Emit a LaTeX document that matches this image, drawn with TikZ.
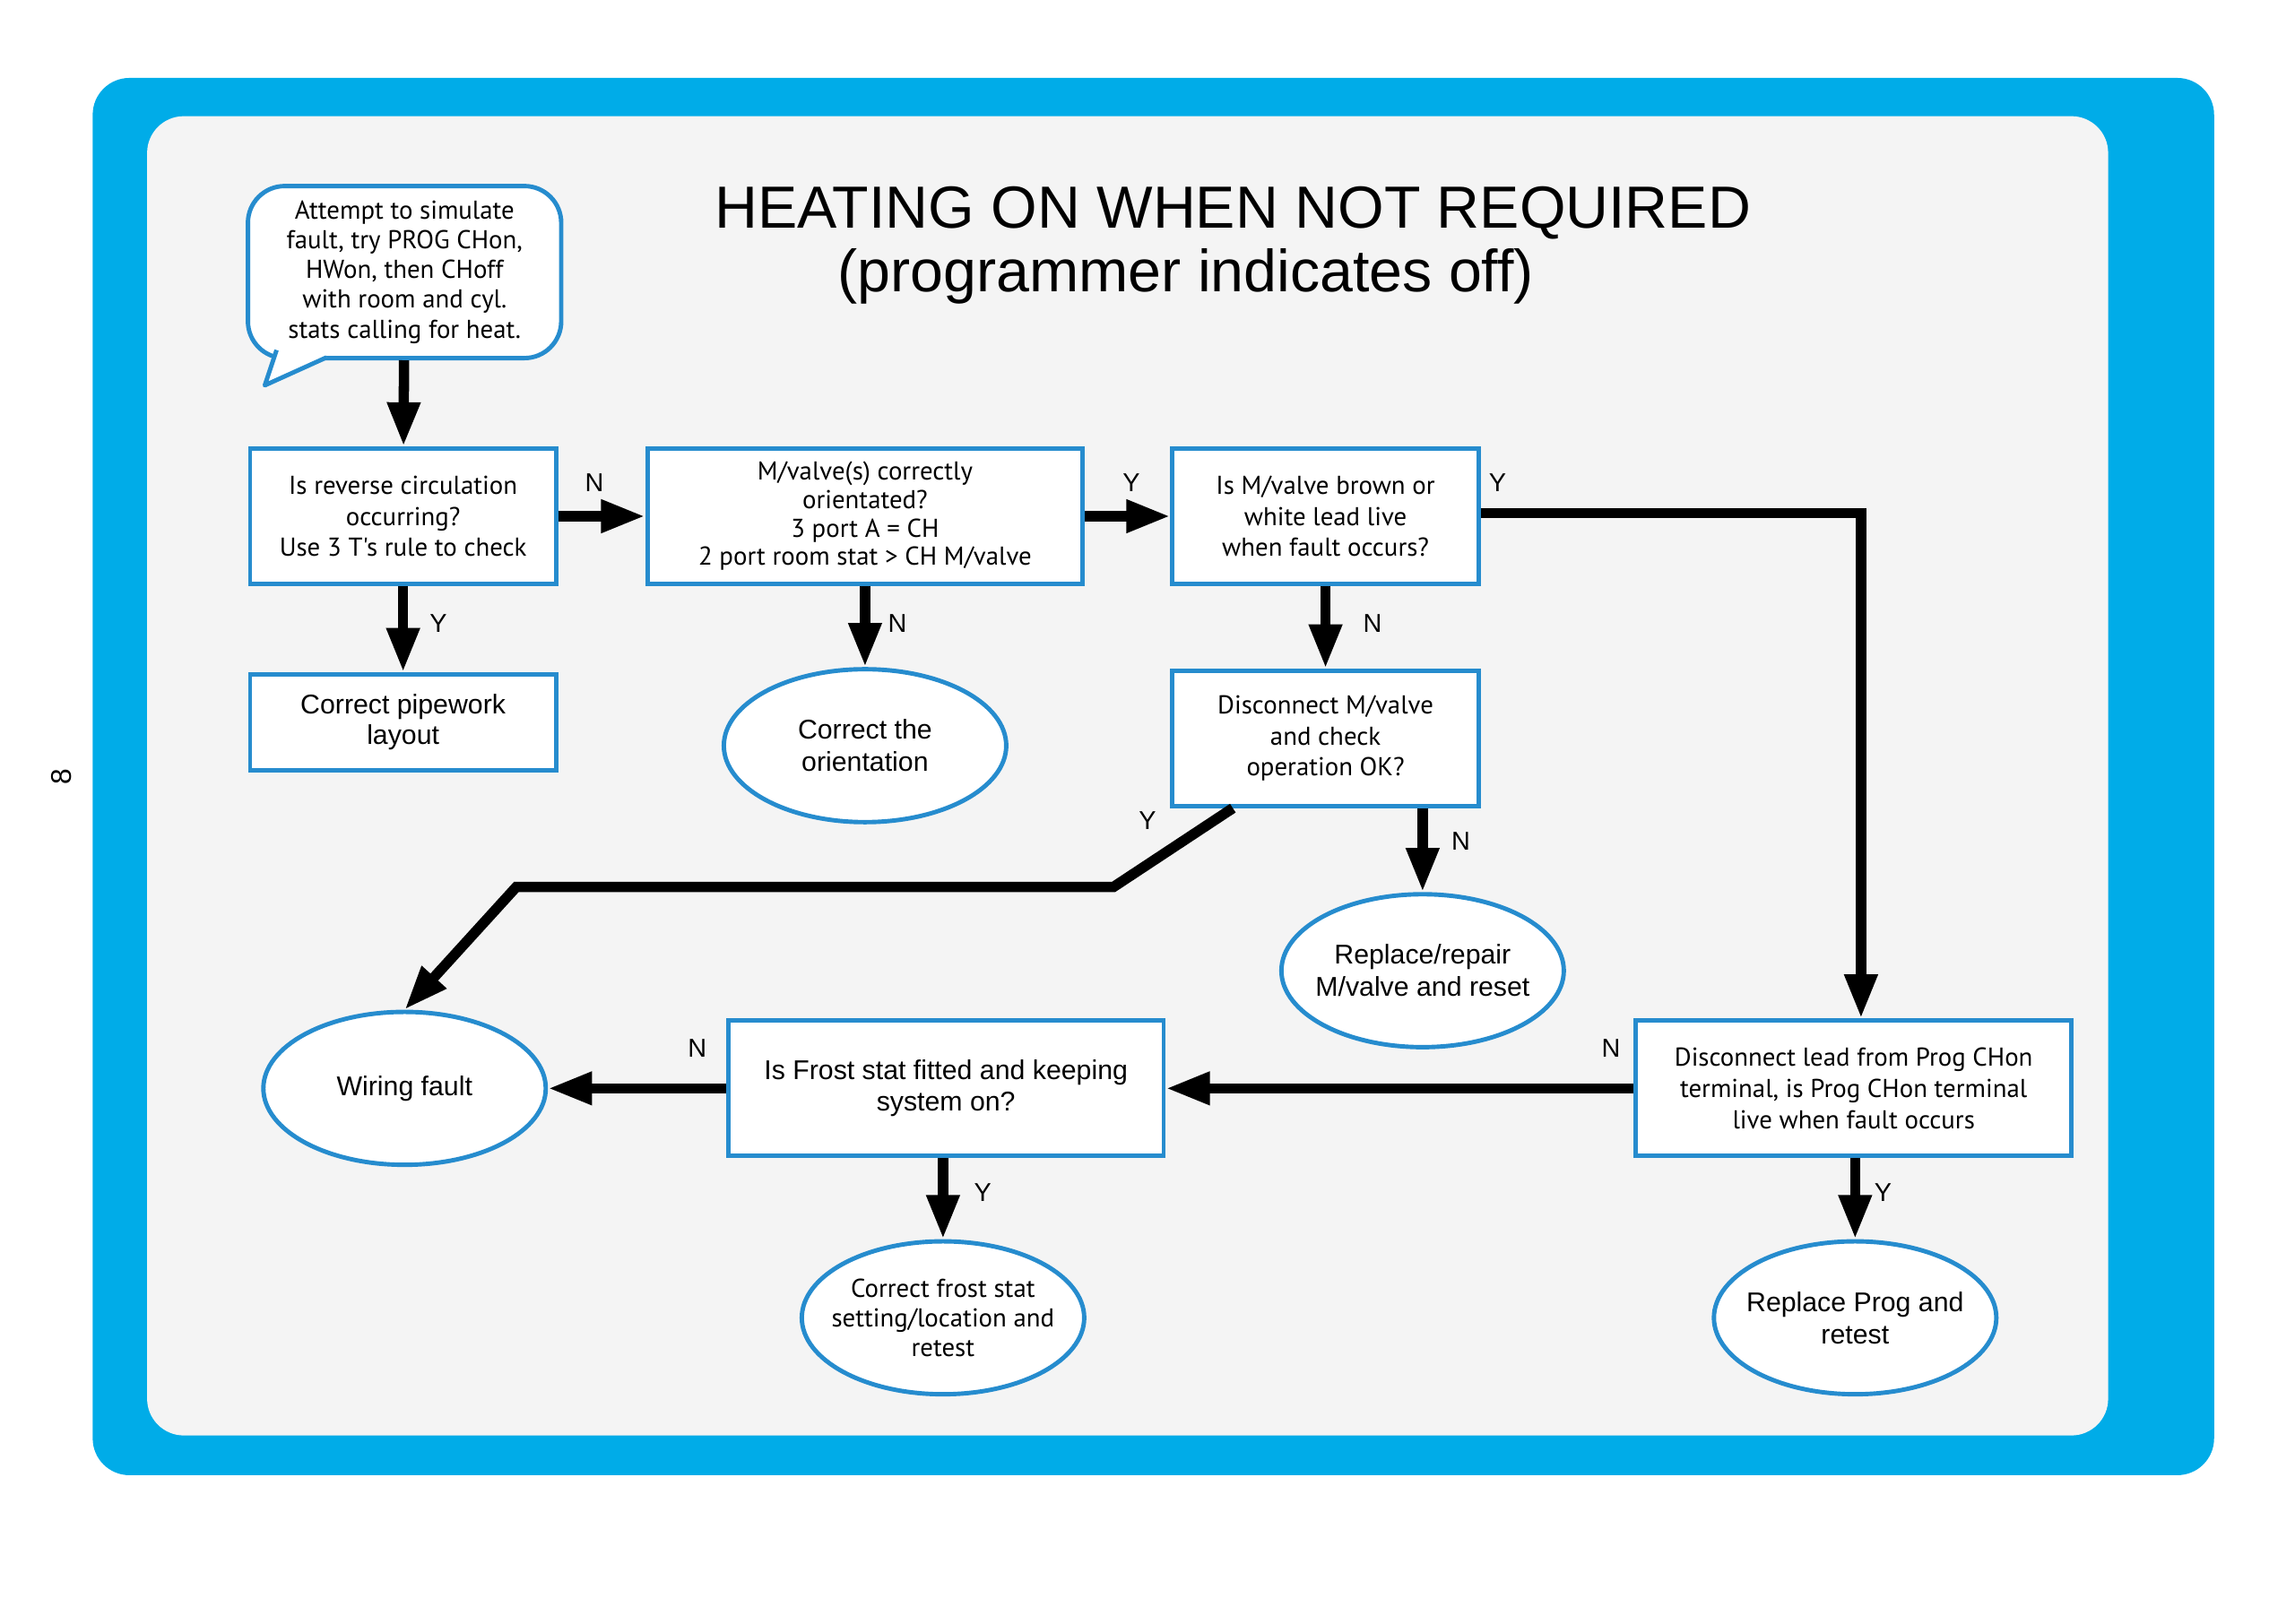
\documentclass[tikz,border=0pt]{standalone}
\usepackage{fontspec}
\setmainfont{Liberation Sans}
\newfontfamily\boxfont{PT Sans}
\usetikzlibrary{arrows.meta,shapes.geometric}
\definecolor{frameblue}{RGB}{0,172,232}
\definecolor{lineblue}{RGB}{38,140,206}
\definecolor{panel}{RGB}{244,244,244}
\tikzset{
	query/.style={draw=lineblue, line width=1.7pt, fill=white, align=center, font=\boxfont\fontsize{10}{12}\selectfont, minimum height=1.84cm, inner sep=2pt},
	finish/.style={ellipse, draw=lineblue, line width=1.7pt, fill=white, align=center, font=\fontsize{10.5}{12.5}\selectfont, minimum width=3.84cm, minimum height=2.08cm, inner sep=-6pt},
	flow/.style={line width=4pt, -{Triangle[length=0.6cm,width=0.42cm]}},
	tag/.style={font=\fontsize{10}{12}\selectfont}
}
\begin{document}
\begin{tikzpicture}[x=0.02cm, y=-0.02cm]
	\useasboundingbox (0,0) rectangle (1560,1104);
	% frame and panel
	\fill[frameblue, rounded corners=0.5cm] (63,53) rectangle (1505,1003);
	\fill[panel, rounded corners=0.5cm] (100,79) rectangle (1433,976);
	\node[rotate=90, font=\fontsize{11}{13}\selectfont] (page) at (42,528) {8};

	% title
	\node[font=\fontsize{23}{28}\selectfont] (title) at (838,145) {HEATING ON WHEN NOT REQUIRED};
	\node[font=\fontsize{23}{28}\selectfont] (subtitle) at (806,188) {(programmer indicates off)};

	% speech bubble
	\node[draw=lineblue, line width=1.7pt, fill=white, rounded corners=0.5cm, align=center, minimum width=4.26cm, minimum height=2.34cm, font=\boxfont\fontsize{10}{11.5}\selectfont] (bubble) at (275,185) {Attempt to simulate\\fault, try PROG CHon,\\HWon, then CHoff\\with room and cyl.\\stats calling for heat.};
	\coordinate (tipA) at (188,238);
	\coordinate (tipB) at (180,262);
	\coordinate (tipC) at (222,243);
	\fill[white] (tipA) -- (tipB) -- (tipC) -- (214,238) -- cycle;
	\draw[lineblue, line width=1.7pt, line join=round] (tipA) -- (tipB) -- (tipC);

	% decision boxes
	\node[query, minimum width=4.16cm] (reverse) at (274,351) {Is reverse circulation\\occurring?\\Use 3 T's rule to check};
	\node[query, minimum width=5.92cm, font=\boxfont\fontsize{10}{11}\selectfont] (orient) at (588,351) {M/valve(s) correctly\\orientated?\\3 port A = CH\\2 port room stat > CH M/valve};
	\node[query, minimum width=4.16cm] (lead) at (901,351) {Is M/valve brown or\\white lead live\\when fault occurs?};
	\node[query, minimum width=4.16cm, minimum height=1.3cm, font=\fontsize{10.5}{12}\selectfont] (pipework) at (274,491) {Correct pipework\\layout};
	\node[query, minimum width=4.16cm] (disvalve) at (901,502) {Disconnect M/valve\\and check\\operation OK?};
	\node[query, minimum width=5.92cm, font=\fontsize{10.5}{12}\selectfont] (frost) at (643,740) {Is Frost stat fitted and keeping\\system on?};
	\node[query, minimum width=5.92cm] (prog) at (1260,740) {Disconnect lead from Prog CHon\\terminal, is Prog CHon terminal\\live when fault occurs};

	% outcomes
	\node[finish] (correct) at (588,507) {Correct the\\orientation};
	\node[finish] (repair) at (967,660) {Replace/repair\\M/valve and reset};
	\node[finish] (wiring) at (275,740) {Wiring fault};
	\node[finish, font=\boxfont\fontsize{10}{11.5}\selectfont] (frostfix) at (641,896) {Correct frost stat\\setting/location and\\retest};
	\node[finish] (replace) at (1261,896) {Replace Prog and\\retest};

	% connectors
	\coordinate (bend1) at (1265,349);
	\coordinate (bend2) at (757,603);
	\coordinate (bend3) at (351,603);
	\draw[flow] (bubble) -- (reverse);
	\draw[flow] (reverse) -- (orient);
	\draw[flow] (orient) -- (lead);
	\draw[flow] (lead.east |- bend1) -- (bend1) -- (bend1 |- prog.north);
	\draw[flow] (reverse) -- (pipework);
	\draw[flow] (orient) -- (correct);
	\draw[flow] (lead) -- (disvalve);
	\draw[flow] ([xshift=-1.26cm]disvalve.south) -- (bend2) -- (bend3) -- (wiring.north);
	\draw[flow] (disvalve.south -| repair.north) -- (repair.north);
	\draw[flow] (prog) -- (frost);
	\draw[flow] (frost) -- (wiring);
	\draw[flow] (frost.south -| frostfix.north) -- (frostfix);
	\draw[flow] (prog.south -| replace.north) -- (replace);

	% labels
	\node[tag] (n1) at (404,328) {N};
	\node[tag] (y1) at (769,328) {Y};
	\node[tag] (y2) at (1018,328) {Y};
	\node[tag] (y3) at (298,424) {Y};
	\node[tag] (n2) at (610,424) {N};
	\node[tag] (n3) at (933,424) {N};
	\node[tag] (y4) at (780,558) {Y};
	\node[tag] (n4) at (993,572) {N};
	\node[tag] (n5) at (1095,713) {N};
	\node[tag] (n6) at (474,713) {N};
	\node[tag] (y5) at (668,811) {Y};
	\node[tag] (y6) at (1280,811) {Y};
\end{tikzpicture}
\end{document}
